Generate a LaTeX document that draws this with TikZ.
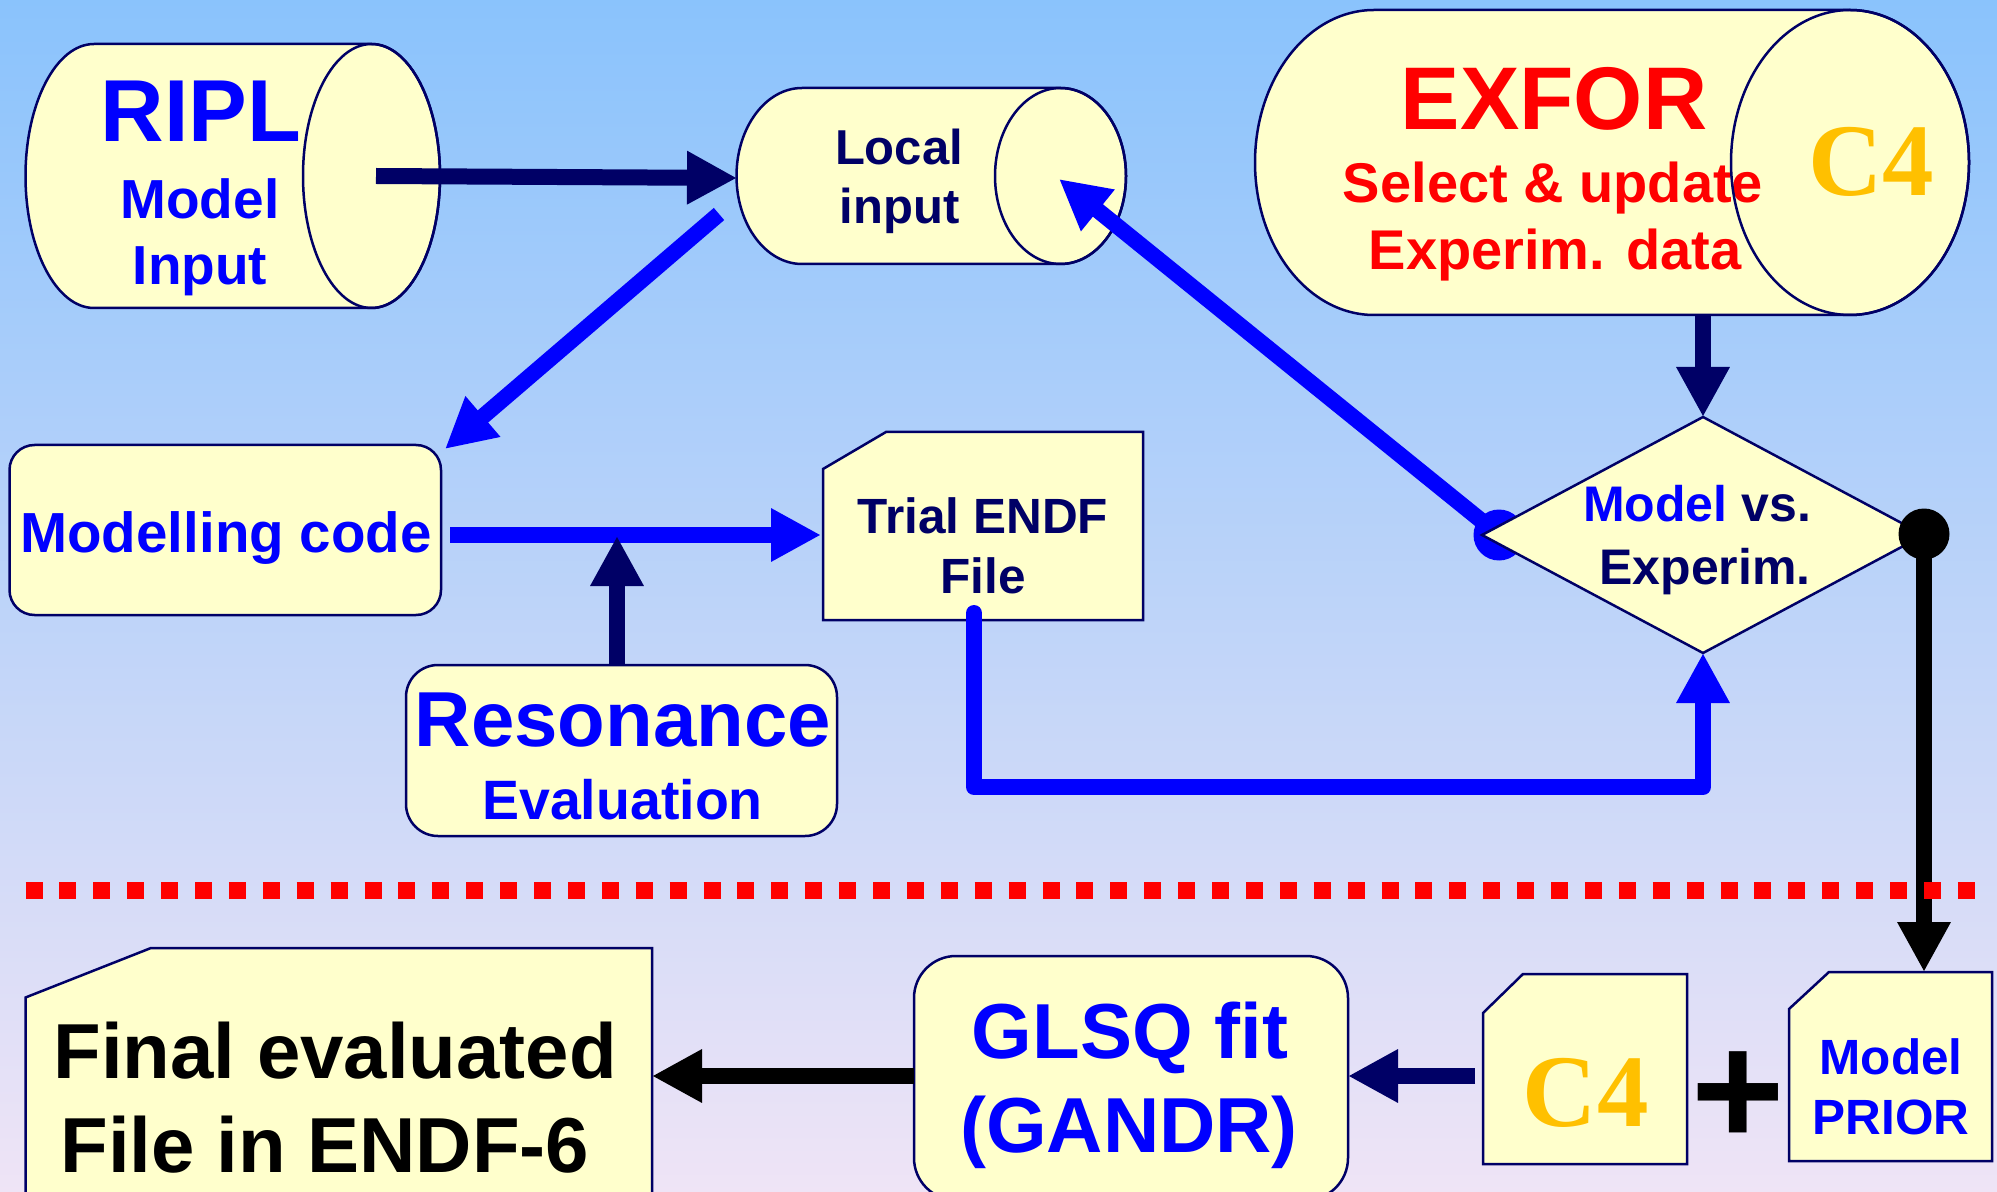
\documentclass[tikz,border=0pt]{standalone}
\usepackage{fontspec}
\setmainfont{Liberation Sans}
\newfontfamily\cfour{Liberation Serif}
\usetikzlibrary{arrows.meta}
\definecolor{bgtop}{RGB}{138,195,252}
\definecolor{bgmid}{RGB}{196,214,236}
\definecolor{bgbot}{RGB}{239,228,246}
\definecolor{boxfill}{RGB}{255,255,204}
\definecolor{navy}{RGB}{0,0,102}
\definecolor{pureblue}{RGB}{0,0,255}
\definecolor{purered}{RGB}{255,0,0}
\definecolor{gold}{RGB}{255,192,0}
\newcommand\fs[1]{\fontsize{#1}{#1}\selectfont\bfseries}
\newcommand\fsr[1]{\fontsize{#1}{#1}\selectfont\cfour\bfseries}
\begin{document}
\begin{tikzpicture}[x=0.5pt,y=-0.5pt,
  panel/.style={fill=boxfill,draw=navy,line width=1.25pt},
  rim/.style={draw=navy,line width=1.25pt},
  lbl/.style={inner sep=0pt,anchor=base},
  conn/.style={line width=8pt,-{Triangle[length=25pt,width=25pt]}},
  dot/.style={circle,inner sep=0pt,minimum size=25.5pt}]

% canvas and background
\useasboundingbox (0,0) rectangle (1997,1192);
\clip (0,0) rectangle (1997,1192);
\shade[top color=bgtop,middle color=bgmid,bottom color=bgbot] (0,0) rectangle (1997,1192);

% ---------- RIPL database ----------
\path[panel] (371.5,44) -- (94,44)
  arc[start angle=90,end angle=270,x radius=34.25pt,y radius=66pt]
  -- (371.5,308)
  arc[start angle=-90,end angle=90,x radius=34.25pt,y radius=66pt] -- cycle;
\node[lbl,text=pureblue,font=\fs{44pt}] (ripl-title) at (201,142) {RIPL};
\node[lbl,text=pureblue,font=\fs{27.5pt}] (ripl-l1) at (200,219) {Model};
\node[lbl,text=pureblue,font=\fs{27.5pt}] (ripl-l2) at (200,285) {Input};
\path[rim] (371.5,176) ellipse[x radius=34.25pt,y radius=66pt];
\coordinate (ripl-out) at (376,176);

% ---------- Local input ----------
\path[panel] (1060.5,88) -- (802,88)
  arc[start angle=90,end angle=270,x radius=32.75pt,y radius=44pt]
  -- (1060.5,264)
  arc[start angle=-90,end angle=90,x radius=32.75pt,y radius=44pt] -- cycle;
\node[lbl,text=navy,font=\fs{24.5pt}] (local-l1) at (899,165) {Local};
\node[lbl,text=navy,font=\fs{24.5pt}] (local-l2) at (899.5,224) {input};
\path[rim] (1060.5,176) ellipse[x radius=32.75pt,y radius=44pt];
\coordinate (local-w) at (737,178);
\coordinate (local-sw) at (719,214);
\coordinate (local-in) at (1059,179);

% ---------- EXFOR database ----------
\path[panel] (1850,10) -- (1374,10)
  arc[start angle=90,end angle=270,x radius=59.5pt,y radius=76.25pt]
  -- (1850,315)
  arc[start angle=-90,end angle=90,x radius=59.5pt,y radius=76.25pt] -- cycle;
\node[lbl,text=purered,font=\fs{44.5pt}] (exfor-title) at (1554,130) {EXFOR};
\node[lbl,text=purered,font=\fs{28pt}] (exfor-l1) at (1553,203) {Select \& update};
\node[lbl,text=purered,font=\fs{28pt}] (exfor-l2) at (1555,270) {Experim. data};
\node[lbl,text=gold,font=\fsr{51.5pt}] (exfor-c4) at (1871,196) {C4};
\path[rim] (1850,162.5) ellipse[x radius=59.5pt,y radius=76.25pt];
\coordinate (exfor-s) at (1703,315);

% ---------- rounded boxes ----------
\path[panel,rounded corners=12.5pt] (9.5,445) rectangle (441,615);
\node[lbl,text=pureblue,font=\fs{28.25pt}] (model-code) at (226,552) {Modelling code};
\coordinate (model-e) at (450,535);
\coordinate (model-ne) at (445,449);

\path[panel,rounded corners=16pt] (406,665) rectangle (837,836);
\node[lbl,text=pureblue,font=\fs{39pt}] (res-l1) at (623,746.5) {Resonance};
\node[lbl,text=pureblue,font=\fs{27.75pt}] (res-l2) at (622.5,819) {Evaluation};
\coordinate (res-n) at (617,665);
\coordinate (main-join) at (617,536);

\path[panel,rounded corners=21pt] (914,956) rectangle (1348,1200);
\node[lbl,text=pureblue,font=\fs{39pt}] (glsq-l1) at (1130,1058.7) {GLSQ fit};
\node[lbl,text=pureblue,font=\fs{39pt}] (glsq-l2) at (1129,1152) {(GANDR)};
\coordinate (glsq-e) at (1348,1076);
\coordinate (glsq-w) at (914,1076);

% ---------- file cards ----------
\path[panel] (823,469) -- (886,432) -- (1143,432) -- (1143,620) -- (823,620) -- cycle;
\node[lbl,text=navy,font=\fs{24.75pt}] (trial-l1) at (983,533.5) {Trial ENDF};
\node[lbl,text=navy,font=\fs{24.75pt}] (trial-l2) at (983,593) {File};
\coordinate (trial-w) at (821,535);
\coordinate (trial-s) at (974,613);
\coordinate (trial-turn1) at (974,787);
\coordinate (trial-turn2) at (1703,787);

\path[panel] (25.5,997.5) -- (151,948) -- (652,948) -- (652,1205) -- (25.5,1205) -- cycle;
\node[lbl,anchor=base west,font=\fs{39pt}] (final-l1) at (53,1078.7) {Final evaluated};
\node[lbl,anchor=base west,font=\fs{39pt}] (final-l2) at (60,1172) {File in ENDF-6};
\coordinate (final-e) at (652,1076);

\path[panel] (1483,1013) -- (1523,974) -- (1687,974) -- (1687,1164) -- (1483,1164) -- cycle;
\node[lbl,text=gold,font=\fsr{51.5pt}] (card-c4) at (1585.6,1126.6) {C4};
\coordinate (card-c4-w) at (1475,1076);

\path[panel] (1789,1009) -- (1829,972) -- (1992,972) -- (1992,1161) -- (1789,1161) -- cycle;
\node[lbl,text=pureblue,font=\fs{24.75pt}] (prior-l1) at (1891,1074) {Model};
\node[lbl,text=pureblue,font=\fs{24.75pt}] (prior-l2) at (1891,1134) {PRIOR};
\coordinate (prior-n) at (1924,972);

\node[lbl,font=\fs{80pt}] (plus) at (1738,1145) {+};

% ---------- feedback to the local input (starts under the decision) ----------
\node[dot,fill=pureblue] (fb-dot) at (1499,535) {};
\draw[conn,draw=pureblue] (fb-dot.center) -- (local-in);

% ---------- decision ----------
\path[panel] (1703,417) -- (1924,535) -- (1703,653) -- (1482,535) -- cycle;
\coordinate (dec-n) at (1703,417);
\coordinate (dec-s) at (1703,653);
\node[lbl,text=navy,font=\fs{25pt}] (dec-l1) at (1697,522) {\textcolor{pureblue}{Model} vs.};
\node[lbl,text=navy,font=\fs{25pt}] (dec-l2) at (1705,584) {Experim.};

% ---------- connectors ----------
\draw[conn,draw=navy] (ripl-out) -- (local-w);
\draw[conn,draw=pureblue] (local-sw) -- (model-ne);
\draw[conn,draw=pureblue] (model-e) -- (trial-w);
\draw[conn,draw=navy] (res-n) -- (main-join);
\draw[conn,draw=pureblue,line cap=round,line join=round]
  (trial-s) -- (trial-turn1) -- (trial-turn2) -- (dec-s);
\draw[conn,draw=navy] (exfor-s) -- (dec-n);
\draw[conn,draw=navy] (card-c4-w) -- (glsq-e);
\draw[conn,draw=black] (glsq-w) -- (final-e);

\node[dot,fill=black] (out-dot) at (1924,534) {};
\draw[conn,draw=black] (out-dot.center) -- (prior-n);

% ---------- separator ----------
\coordinate (sep-w) at (25.5,890);
\coordinate (sep-e) at (1976,890);
\draw[purered,line width=8.5pt,dash pattern=on 8.5pt off 8.45pt] (sep-w) -- (sep-e);
\end{tikzpicture}
\end{document}
